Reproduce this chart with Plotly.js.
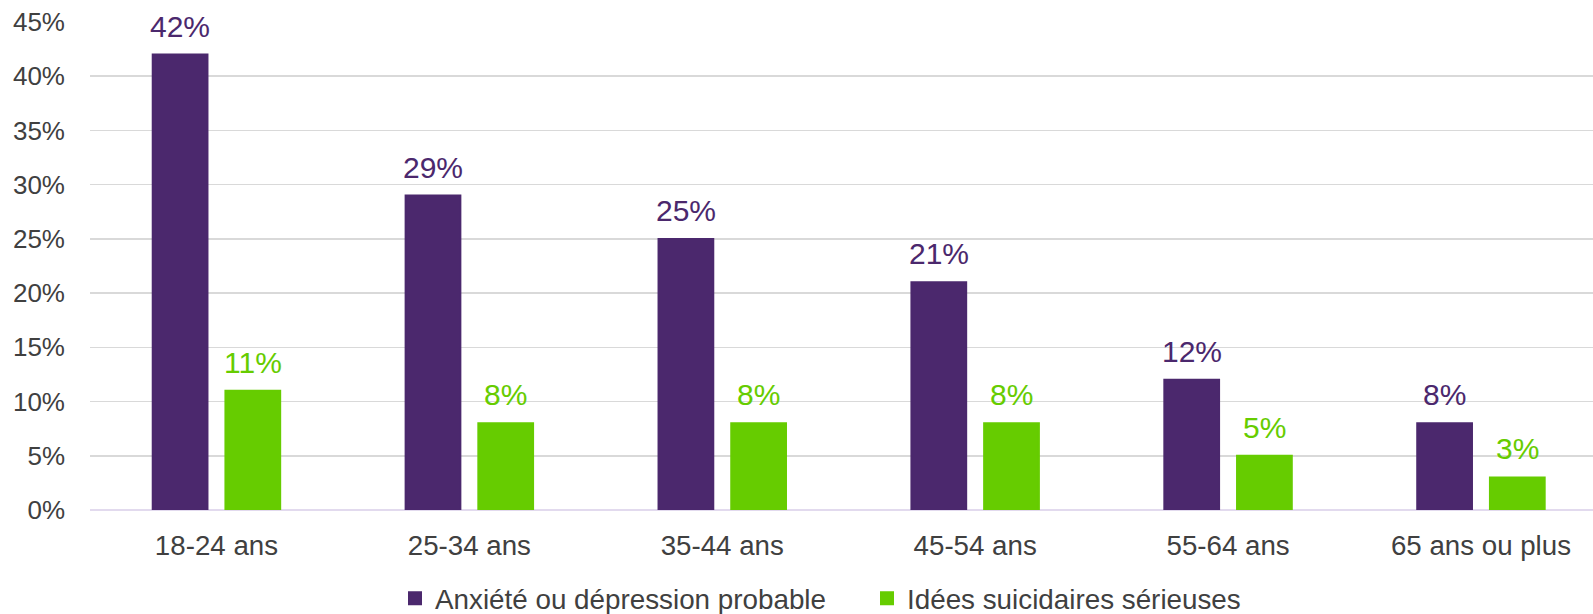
<!DOCTYPE html>
<html>
<head>
<meta charset="utf-8">
<script src="https://cdn.plot.ly/plotly-3.0.1.min.js"></script>
<style>
  html, body { margin: 0; padding: 0; background: #ffffff; overflow: hidden; }
  #chart { width: 1593px; height: 614px; }
</style>
</head>
<body>
<div id="chart"></div>
<script>
// Age groups and shares (in %) for each indicator
const ageGroups = ['18-24 ans', '25-34 ans', '35-44 ans', '45-54 ans', '55-64 ans', '65 ans ou plus'];
const anxietyDepression = [42, 29, 25, 21, 12, 8];
const suicidalIdeation = [11, 8, 8, 8, 5, 3];
const seriesNames = ['Anxiété ou dépression probable', 'Idées suicidaires sérieuses'];
const yTickValues = [0, 5, 10, 15, 20, 25, 30, 35, 40, 45];

const PURPLE = '#4b286d';
const GREEN = '#66cc00';
const TEXT = '#404040';
const FONT = 'Liberation Sans, Arial, sans-serif';

// A thin outline in the fill colour also enlarges the legend swatches
const traces = [
  {
    type: 'bar', name: seriesNames[0], x: ageGroups, y: anxietyDepression,
    marker: { color: PURPLE, line: { width: 2, color: PURPLE } }, hoverinfo: 'x+y'
  },
  {
    type: 'bar', name: seriesNames[1], x: ageGroups, y: suicidalIdeation,
    marker: { color: GREEN, line: { width: 2, color: GREEN } }, hoverinfo: 'x+y'
  }
];

// Value labels above each bar, offset to sit over its own bar in the group
const BAR_OFFSET = 36.5;
const annotations = [];
[[anxietyDepression, PURPLE, -BAR_OFFSET], [suicidalIdeation, GREEN, BAR_OFFSET]].forEach(([vals, color, dx]) => {
  vals.forEach((v, i) => {
    annotations.push({
      x: ageGroups[i], y: v, xref: 'x', yref: 'y',
      text: v + '%', showarrow: false,
      xanchor: 'center', yanchor: 'bottom',
      xshift: dx, yshift: 10,
      font: { family: FONT, size: 30, color: color }
    });
  });
});

const layout = {
  width: 1593, height: 614,
  margin: { l: 90, r: 0, t: 22, b: 104, pad: 0 },
  paper_bgcolor: '#ffffff', plot_bgcolor: '#ffffff',
  font: { family: FONT, color: TEXT },
  barmode: 'group', bargap: 0.425, bargroupgap: 0.247,
  xaxis: {
    type: 'category', range: [-0.5, 5.443],
    showgrid: false, showline: false, zeroline: false, ticks: '',
    tickfont: { family: FONT, size: 27.7, color: TEXT },
    ticklabelstandoff: 16
  },
  yaxis: {
    range: [0, 45], tickvals: yTickValues, ticktext: yTickValues.map(v => v + '%'),
    showgrid: true, gridcolor: '#d9d9d9', gridwidth: 1.5,
    zeroline: true, zerolinecolor: '#e2daee', zerolinewidth: 2,
    showline: false, ticks: '',
    tickfont: { family: FONT, size: 26, color: TEXT },
    ticklabelstandoff: 24
  },
  showlegend: true,
  legend: {
    orientation: 'h', xref: 'container', yref: 'container',
    x: 395 / 1593, xanchor: 'left', y: 0.025, yanchor: 'middle',
    entrywidth: 427, entrywidthmode: 'pixels',
    font: { family: FONT, size: 27.8, color: TEXT },
    bgcolor: 'rgba(0,0,0,0)', traceorder: 'normal'
  },
  annotations: annotations
};

Plotly.newPlot('chart', traces, layout, { displayModeBar: false, staticPlot: true });
</script>
</body>
</html>
